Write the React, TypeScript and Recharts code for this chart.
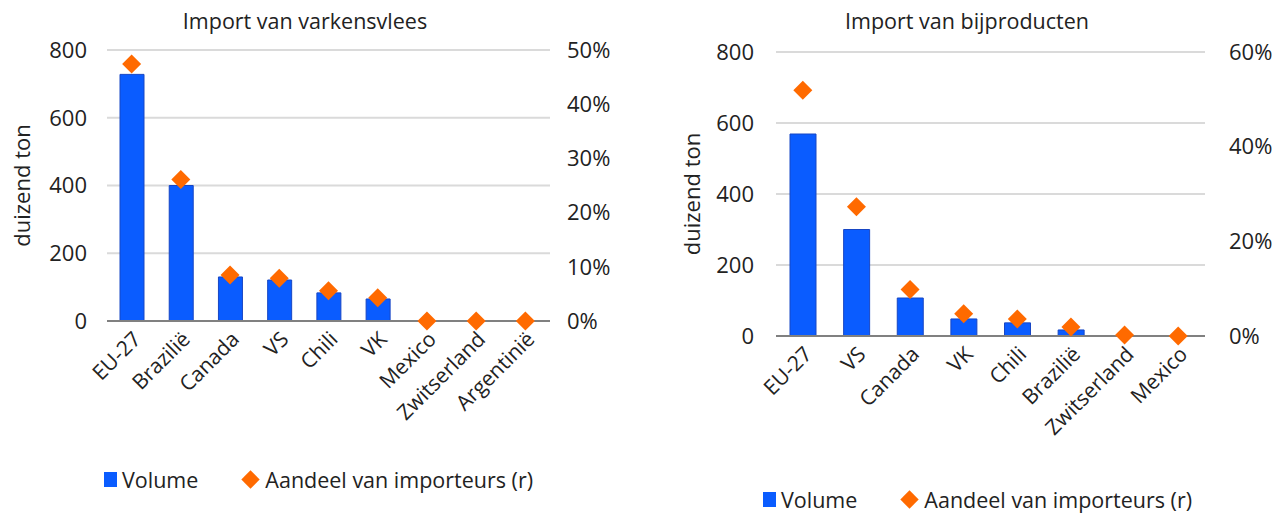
import React from "react";
import { ComposedChart, Bar, Scatter, XAxis, YAxis, CartesianGrid, Legend } from "recharts";

const FONT = "'Open Sans', 'Noto Sans', sans-serif";
const BLUE = "#0a5cff";
const ORANGE = "#ff6a00";

// Import van varkensvlees
const porkCountries = ["EU-27", "Brazilië", "Canada", "VS", "Chili", "VK", "Mexico", "Zwitserland", "Argentinië"];
const porkVolume = [728, 400, 130, 121, 83, 65, 0, 0, 0];
const porkShare = [0.474, 0.261, 0.085, 0.079, 0.056, 0.043, 0, 0, 0];
const porkLeftTicks = [0, 200, 400, 600, 800];
const porkRightTicks = [0, 0.1, 0.2, 0.3, 0.4, 0.5];

// Import van bijproducten
const byCountries = ["EU-27", "VS", "Canada", "VK", "Chili", "Brazilië", "Zwitserland", "Mexico"];
const byVolume = [569, 300, 107, 48, 37, 17, 0, 0];
const byShare = [0.519, 0.273, 0.098, 0.047, 0.036, 0.019, 0.002, 0];
const byLeftTicks = [0, 200, 400, 600, 800];
const byRightTicks = [0, 0.2, 0.4, 0.6];

const build = (cats: string[], vol: number[], share: number[]) =>
  cats.map((c, i) => ({ name: c, volume: vol[i], share: share[i] }));

const Diamond = (props: any) => {
  const { cx, cy } = props;
  if (cx == null || cy == null) return null;
  const r = 9.5;
  return <polygon points={`${cx},${cy - r} ${cx + r},${cy} ${cx},${cy + r} ${cx - r},${cy}`} fill={ORANGE} />;
};

const renderLegend = (props: any) => {
  const items = [...(props.payload || [])].sort((a: any, b: any) => (a.type === "diamond" ? 1 : 0) - (b.type === "diamond" ? 1 : 0));
  return (
    <div style={{ display: "flex", alignItems: "center", fontFamily: FONT, fontSize: 21.5, color: "#222", whiteSpace: "nowrap" }}>
      {items.map((p: any, i: number) => (
        <div key={i} style={{ display: "flex", alignItems: "center", marginRight: 44 }}>
          {p.type === "diamond" ? (
            <span style={{ width: 13, height: 13, background: ORANGE, transform: "rotate(45deg)", marginRight: 8, marginLeft: 2 }} />
          ) : (
            <span style={{ width: 13, height: 15, background: BLUE, marginRight: 5 }} />
          )}
          <span>{p.value}</span>
        </div>
      ))}
    </div>
  );
};

type PanelProps = {
  title: string;
  titleX: number;
  data: any[];
  rightMax: number;
  leftTicks: number[];
  rightTicks: number[];
  margin: { top: number; right: number; bottom: number; left: number };
  xHeight: number;
  barSize: number;
  labelDx: number;
  leftMargin: number;
  rightMargin: number;
  legendLeft: number;
  legendTop: number;
};

function Panel(p: PanelProps) {
  const tick = { fill: "#222", fontSize: 22, fontFamily: FONT };
  return (
    <div style={{ position: "relative", width: 640, height: 521 }}>
      <div style={{ position: "absolute", top: 6, left: 0, width: "100%", textAlign: "center", fontFamily: FONT, fontSize: 21.5, color: "#222", transform: `translateX(${p.titleX}px)` }}>
        {p.title}
      </div>
      <ComposedChart width={640} height={521} data={p.data} margin={p.margin}>
        <CartesianGrid yAxisId="l" vertical={false} stroke="#dadada" strokeWidth={2} />
        <XAxis
          dataKey="name"
          interval={0}
          height={p.xHeight}
          angle={-45}
          textAnchor="end"
          tick={{ ...tick, fontSize: 21 }}
          tickLine={false}
          tickSize={0}
          tickMargin={9}
          axisLine={{ stroke: "#808080", strokeWidth: 2 }}
        />
        <YAxis
          yAxisId="l"
          domain={[0, 800]}
          ticks={p.leftTicks}
          width={72}
          tick={tick}
          tickLine={false}
          axisLine={false}
          tickSize={0}
          tickMargin={p.leftMargin}
          label={{ value: "duizend ton", angle: -90, position: "center", dx: p.labelDx, style: { fontSize: 22, fontFamily: FONT, fill: "#222" } }}
        />
        <YAxis
          yAxisId="r"
          orientation="right"
          domain={[0, p.rightMax]}
          ticks={p.rightTicks}
          width={60}
          tick={{ ...tick, textAnchor: "start" }}
          tickFormatter={(v: number) => `${Math.round(v * 100)}%`}
          tickLine={false}
          axisLine={false}
          tickSize={0}
          tickMargin={p.rightMargin}
        />
        <Legend
          verticalAlign="bottom"
          align="left"
          content={renderLegend}
          wrapperStyle={{ left: p.legendLeft, top: p.legendTop, width: "auto" }}
        />
        <Bar yAxisId="l" dataKey="volume" name="Volume" fill={BLUE} stroke="#1746c4" strokeWidth={1} barSize={p.barSize} legendType="square" isAnimationActive={false} />
        <Scatter yAxisId="r" dataKey="share" name="Aandeel van importeurs (r)" shape={<Diamond />} legendType="diamond" isAnimationActive={false} />
      </ComposedChart>
    </div>
  );
}

export default function App() {
  return (
    <div style={{ position: "absolute", left: 0, top: 0, width: 1280, height: 521, background: "#fff", display: "flex" }}>
      <Panel
        title="Import van varkensvlees"
        titleX={-15}
        data={build(porkCountries, porkVolume, porkShare)}
        rightMax={0.5}
        leftTicks={porkLeftTicks}
        rightTicks={porkRightTicks}
        margin={{ top: 50, right: 30, bottom: 28, left: 35 }}
        xHeight={143}
        barSize={24}
        labelDx={-49}
        leftMargin={20}
        rightMargin={17}
        legendLeft={104}
        legendTop={465}
      />
      <Panel
        title="Import van bijproducten"
        titleX={7}
        data={build(byCountries, byVolume, byShare)}
        rightMax={0.6}
        leftTicks={byLeftTicks}
        rightTicks={byRightTicks}
        margin={{ top: 52, right: 15, bottom: 8, left: 64 }}
        xHeight={148}
        barSize={26}
        labelDx={-48}
        leftMargin={22}
        rightMargin={24}
        legendLeft={123}
        legendTop={485}
      />
    </div>
  );
}
